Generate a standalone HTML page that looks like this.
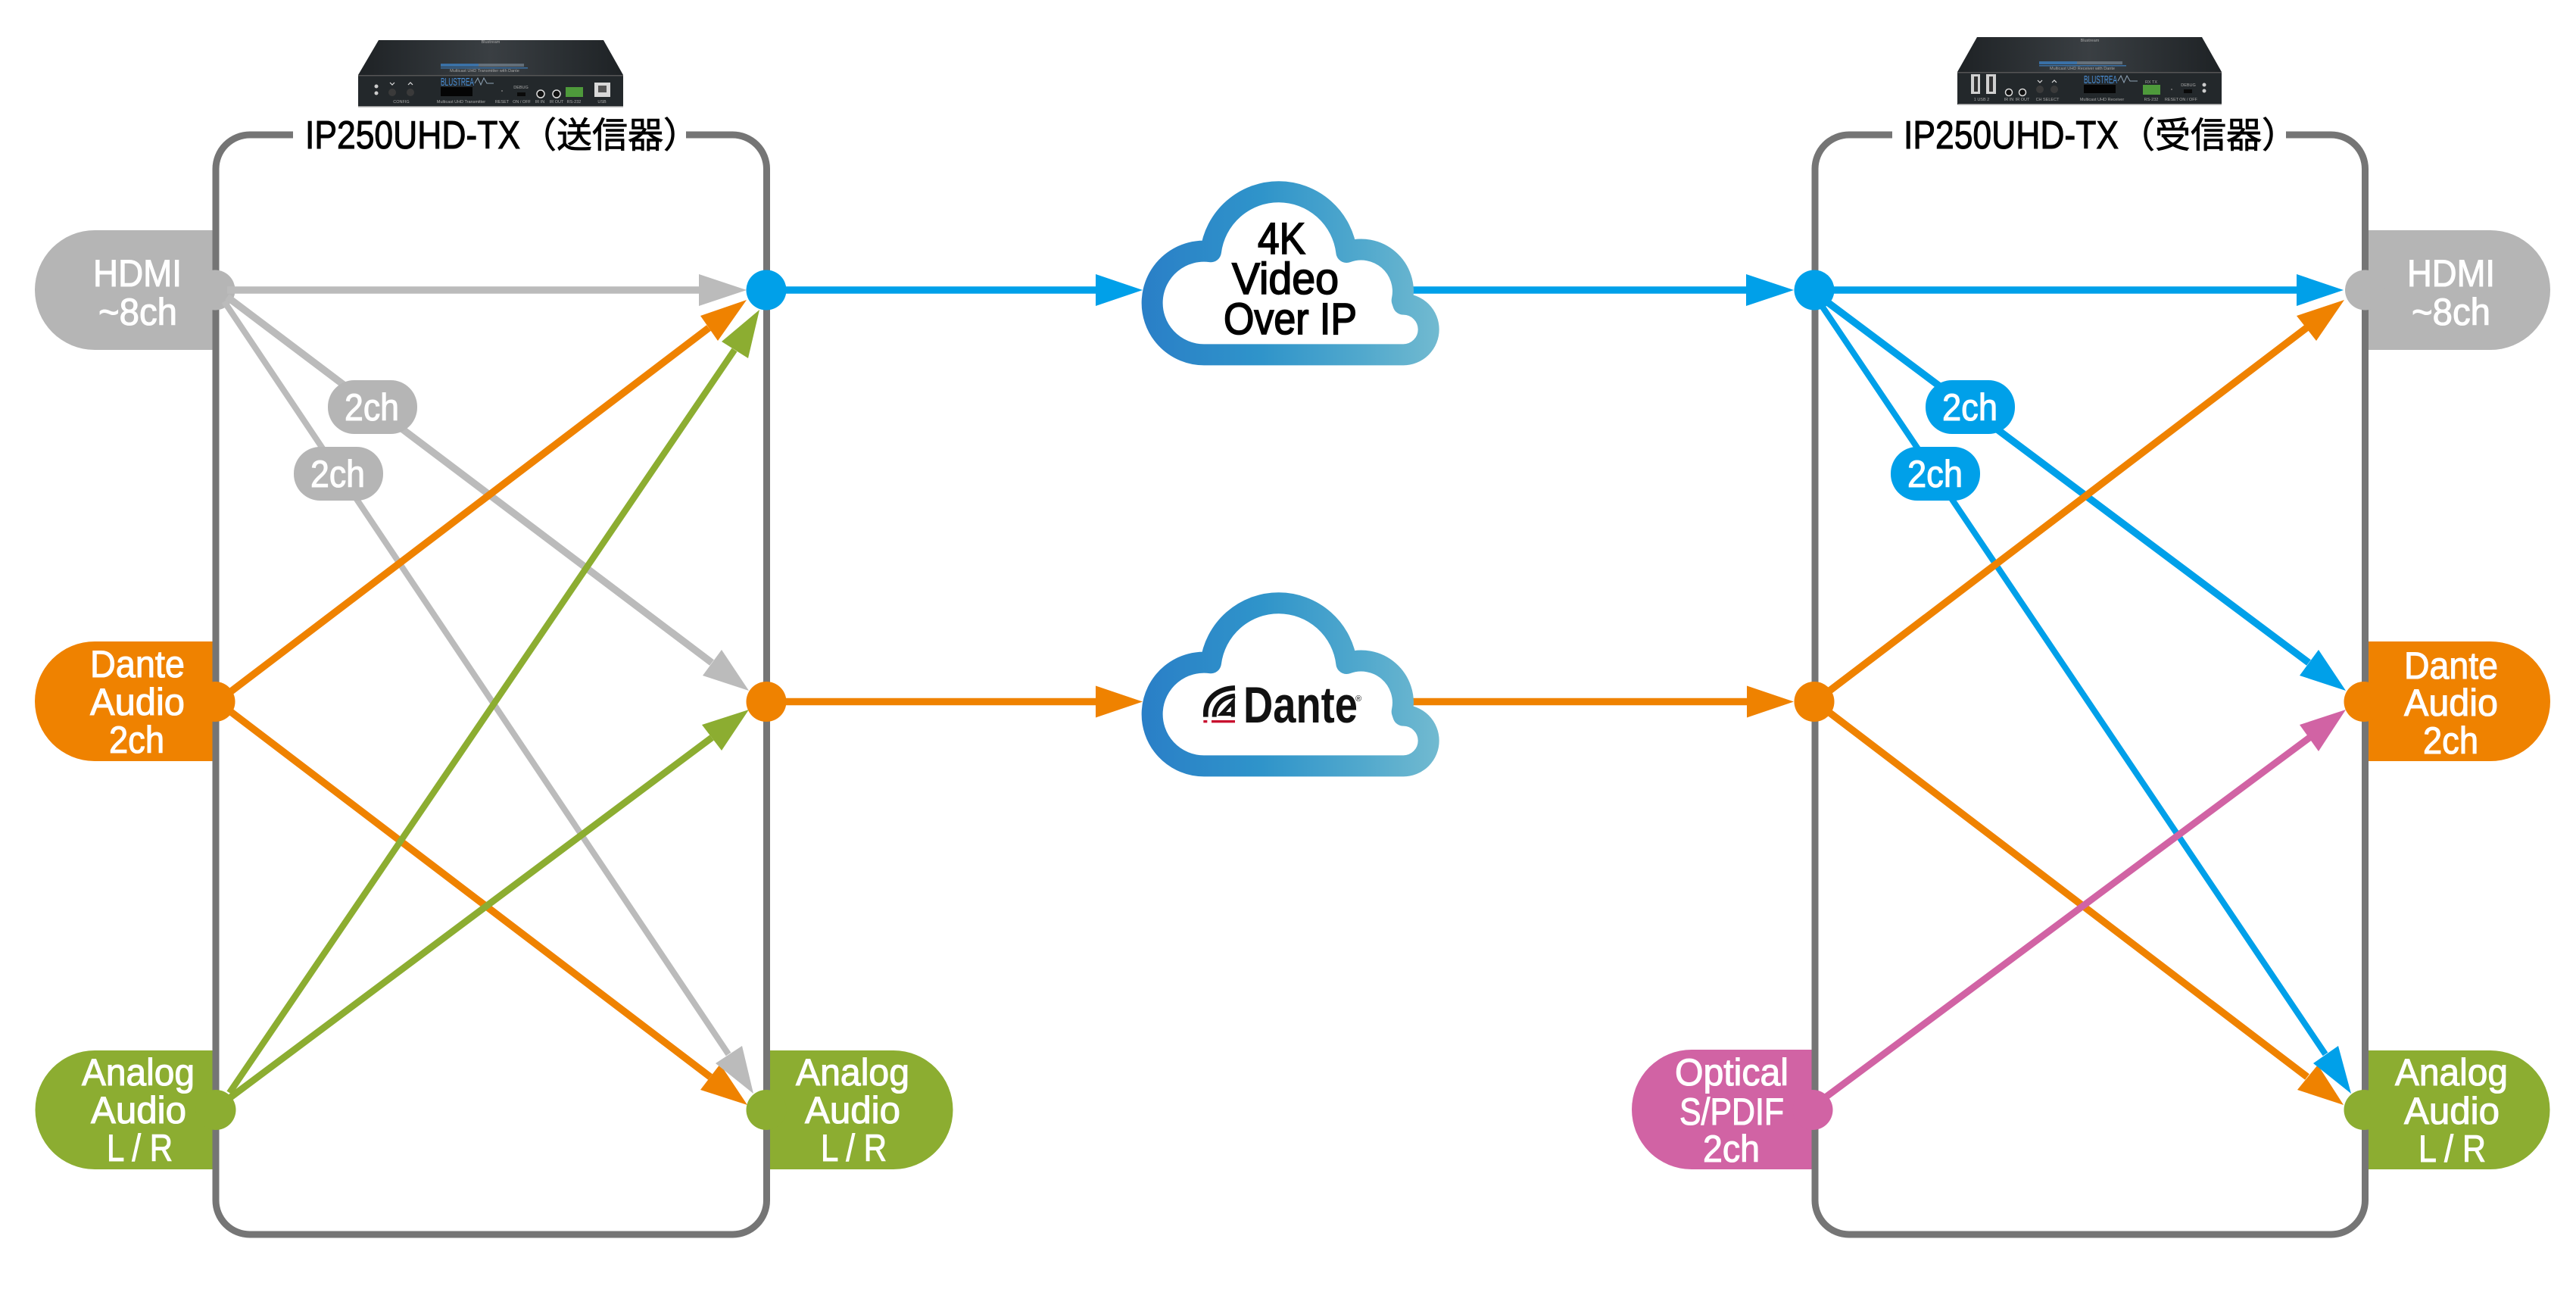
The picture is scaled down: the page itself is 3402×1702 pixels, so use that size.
<!DOCTYPE html>
<html><head><meta charset="utf-8"><style>
html,body{margin:0;padding:0;background:#fff}
svg{display:block}
.w{font-family:"Liberation Sans",sans-serif;font-size:50px;fill:#fff;stroke:#fff;stroke-width:1.1}
.k{font-family:"Liberation Sans",sans-serif;font-size:58px;fill:#000;stroke:#000;stroke-width:1.7}
.t{font-family:"Liberation Sans",sans-serif;font-size:52px;fill:#000;stroke:#000;stroke-width:1.1}
.j{font-family:"Liberation Sans","Noto Sans CJK JP",sans-serif;font-size:47px;fill:#000;stroke:#000;stroke-width:.8}
.d{font-family:"Liberation Sans",sans-serif;font-size:5.5px;fill:#a8a8a8;text-anchor:middle}
.b{font-family:"Liberation Sans",sans-serif;font-size:15px;fill:#4a90d9}
</style></head><body>
<svg xmlns="http://www.w3.org/2000/svg" width="3402" height="1702" viewBox="0 0 3402 1702">
<defs>
<linearGradient id="c" gradientUnits="userSpaceOnUse" x1="175" y1="0" x2="1352" y2="0">
<stop offset="0" stop-color="#2a7fc7"/><stop offset=".4" stop-color="#2f94ca"/><stop offset=".75" stop-color="#52a9cd"/><stop offset="1" stop-color="#72bad0"/>
</linearGradient>
<linearGradient id="top" x1="0" y1="0" x2="1" y2="0">
<stop offset="0" stop-color="#1e2225"/><stop offset=".5" stop-color="#3a3f43"/><stop offset="1" stop-color="#1e2225"/>
</linearGradient>
<path id="cl" d="M420,805 L1210,805 A100,100 0 0 0 1210,605 L1205,590 A166,166 0 0 0 985,399 A271,271 0 0 0 447,396.8 A205,205 0 1 0 420,805 Z" fill="#fff" stroke="url(#c)" stroke-width="84" stroke-linejoin="round"/>
</defs>
<rect width="3402" height="1702" fill="#fff"/>

<!-- pills -->
<path d="M281,304 H125 A79,79 0 0 0 125,462 H281Z" fill="#b5b5b5"/>
<path d="M281,847 H125 A79,79 0 0 0 125,1005 H281Z" fill="#ef8200"/>
<path d="M281,1387 H125 A78.5,78.5 0 0 0 125,1544 H281Z" fill="#8cad31"/>
<path d="M1016,1387 H1180 A78.5,78.5 0 0 1 1180,1544 H1016Z" fill="#8cad31"/>
<path d="M2393,1386 H2234 A79,79 0 0 0 2234,1544 H2393Z" fill="#d163a4"/>
<path d="M3128,304 H3289 A79,79 0 0 1 3289,462 H3128Z" fill="#b5b5b5"/>
<path d="M3128,847 H3289 A79,79 0 0 1 3289,1005 H3128Z" fill="#ef8200"/>
<path d="M3128,1387 H3289 A78.5,78.5 0 0 1 3289,1544 H3128Z" fill="#8cad31"/>

<!-- boxes -->
<g fill="none" stroke="#757575" stroke-width="9">
<path d="M387,178 H330 A45,45 0 0 0 285,223 V1585 A45,45 0 0 0 330,1630 H967.5 A45,45 0 0 0 1012.5,1585 V223 A45,45 0 0 0 967.5,178 H906"/>
<path d="M2499,178 H2442 A45,45 0 0 0 2397,223 V1585 A45,45 0 0 0 2442,1630 H3078.5 A45,45 0 0 0 3123.5,1585 V223 A45,45 0 0 0 3078.5,178 H3019"/>
</g>

<!-- ports -->
<circle cx="284" cy="383" r="26.5" fill="#b5b5b5"/>
<circle cx="284" cy="926.5" r="26.5" fill="#ef8200"/>
<circle cx="285" cy="1465.5" r="26.5" fill="#8cad31"/>
<circle cx="1012" cy="1465.5" r="26.5" fill="#8cad31"/>
<circle cx="1012" cy="383" r="26.5" fill="#00a0e9"/>
<circle cx="1012" cy="926.5" r="26.5" fill="#ef8200"/>
<circle cx="2396" cy="383" r="26.5" fill="#00a0e9"/>
<circle cx="2396" cy="926.5" r="26.5" fill="#ef8200"/>
<circle cx="2394" cy="1465.5" r="26.5" fill="#d163a4"/>
<circle cx="3123.5" cy="383" r="26.5" fill="#b5b5b5"/>
<circle cx="3122" cy="926.5" r="26.5" fill="#ef8200"/>
<circle cx="3122" cy="1465.5" r="26.5" fill="#8cad31"/>

<!-- connectors -->
<g fill="none" stroke-width="9.5">
<path d="M300,383 H925" stroke="#bbb"/>
<path d="M300,392 L940,875" stroke="#bbb"/>
<path d="M296,398 L962,1392" stroke="#bbb" stroke-width="8"/>
<path d="M305,913 L936,433" stroke="#ef8200"/>
<path d="M305,940 L938,1422" stroke="#ef8200"/>
<path d="M303,1443 L970,462" stroke="#8cad31" stroke-width="8.5"/>
<path d="M303,1450 L940,974" stroke="#8cad31" stroke-width="9"/>
<path d="M1035,383 H1449" stroke="#00a0e9"/>
<path d="M1035,926.5 H1449" stroke="#ef8200"/>
<path d="M1860,383 H2308" stroke="#00a0e9"/>
<path d="M1860,926.5 H2308" stroke="#ef8200"/>
<path d="M2410,383 H3035" stroke="#00a0e9"/>
<path d="M2408,395 L3049,875" stroke="#00a0e9"/>
<path d="M2402,398 L3071,1392" stroke="#00a0e9" stroke-width="8"/>
<path d="M2415,913 L3046,433" stroke="#ef8200"/>
<path d="M2415,940 L3047,1422" stroke="#ef8200"/>
<path d="M2412,1448 L3050,974" stroke="#d163a4" stroke-width="9"/>
</g>

<!-- arrowheads -->
<polygon points="986,383 923,362 923,404" fill="#bbb"/>
<polygon points="989,912 953,858 928,892" fill="#bbb"/>
<polygon points="987,1459 951,1405 925,1439" fill="#ef8200"/>
<polygon points="995,1444 980,1381 945,1404" fill="#bbb"/>
<polygon points="986,396 925,417 948,450" fill="#ef8200"/>
<polygon points="1003,409 953,451 988,473" fill="#8cad31"/>
<polygon points="989,937 927,957 953,991" fill="#8cad31"/>
<polygon points="1509,383 1447,362 1447,404" fill="#00a0e9"/>
<polygon points="1509,926.5 1447,905.5 1447,947.5" fill="#ef8200"/>
<polygon points="2369,383 2306,362 2306,404" fill="#00a0e9"/>
<polygon points="2369,926.5 2307,905.5 2307,947.5" fill="#ef8200"/>
<polygon points="3095,383 3033,362 3033,404" fill="#00a0e9"/>
<polygon points="3096,396 3033,417 3059,450" fill="#ef8200"/>
<polygon points="3098,912 3062,858 3037,892" fill="#00a0e9"/>
<polygon points="3098,937 3037,957 3062,992" fill="#d163a4"/>
<polygon points="3095,1459 3061,1406 3034,1439" fill="#ef8200"/>
<polygon points="3105,1444 3088,1381 3055,1404" fill="#00a0e9"/>

<!-- chips -->
<rect x="433" y="502" width="118" height="71" rx="35" fill="#b5b5b5"/>
<rect x="388" y="590" width="118" height="71" rx="35" fill="#b5b5b5"/>
<rect x="2543" y="502" width="118" height="71" rx="35" fill="#00a0e9"/>
<rect x="2497" y="590" width="118" height="71" rx="35" fill="#00a0e9"/>
<text class="w" x="455" y="555" textLength="72" lengthAdjust="spacingAndGlyphs">2ch</text>
<text class="w" x="410" y="643" textLength="72" lengthAdjust="spacingAndGlyphs">2ch</text>
<text class="w" x="2565" y="555" textLength="73" lengthAdjust="spacingAndGlyphs">2ch</text>
<text class="w" x="2519" y="643" textLength="73" lengthAdjust="spacingAndGlyphs">2ch</text>

<!-- pill labels -->
<text class="w" x="123" y="378" textLength="117" lengthAdjust="spacingAndGlyphs">HDMI</text>
<text class="w" x="130" y="429" textLength="104" lengthAdjust="spacingAndGlyphs">~8ch</text>
<text class="w" x="119" y="894" textLength="125" lengthAdjust="spacingAndGlyphs">Dante</text>
<text class="w" x="119" y="944" textLength="125" lengthAdjust="spacingAndGlyphs">Audio</text>
<text class="w" x="144" y="994" textLength="73" lengthAdjust="spacingAndGlyphs">2ch</text>
<text class="w" x="108" y="1433" textLength="149" lengthAdjust="spacingAndGlyphs">Analog</text>
<text class="w" x="120" y="1483" textLength="126" lengthAdjust="spacingAndGlyphs">Audio</text>
<text class="w" x="141" y="1533" textLength="87" lengthAdjust="spacingAndGlyphs">L / R</text>
<text class="w" x="1051" y="1433" textLength="150" lengthAdjust="spacingAndGlyphs">Analog</text>
<text class="w" x="1063" y="1483" textLength="126" lengthAdjust="spacingAndGlyphs">Audio</text>
<text class="w" x="1084" y="1533" textLength="87" lengthAdjust="spacingAndGlyphs">L / R</text>
<text class="w" x="2212" y="1433" textLength="150" lengthAdjust="spacingAndGlyphs">Optical</text>
<text class="w" x="2218" y="1485" textLength="138" lengthAdjust="spacingAndGlyphs">S/PDIF</text>
<text class="w" x="2249" y="1534" textLength="75" lengthAdjust="spacingAndGlyphs">2ch</text>
<text class="w" x="3179" y="378" textLength="116" lengthAdjust="spacingAndGlyphs">HDMI</text>
<text class="w" x="3185" y="429" textLength="104" lengthAdjust="spacingAndGlyphs">~8ch</text>
<text class="w" x="3175" y="896" textLength="124" lengthAdjust="spacingAndGlyphs">Dante</text>
<text class="w" x="3175" y="945" textLength="124" lengthAdjust="spacingAndGlyphs">Audio</text>
<text class="w" x="3200" y="995" textLength="73" lengthAdjust="spacingAndGlyphs">2ch</text>
<text class="w" x="3163" y="1433" textLength="149" lengthAdjust="spacingAndGlyphs">Analog</text>
<text class="w" x="3175" y="1484" textLength="126" lengthAdjust="spacingAndGlyphs">Audio</text>
<text class="w" x="3194" y="1534" textLength="89" lengthAdjust="spacingAndGlyphs">L / R</text>

<!-- titles -->
<text class="t" x="403" y="196" textLength="284" lengthAdjust="spacingAndGlyphs">IP250UHD-TX</text>
<text class="j" x="688" y="195">（送信器）</text>
<text class="t" x="2514" y="196" textLength="284" lengthAdjust="spacingAndGlyphs">IP250UHD-TX</text>
<text class="j" x="2799" y="195">（受信器）</text>

<!-- clouds -->
<g transform="translate(1450,200) scale(.33333)"><use href="#cl"/></g>
<g transform="translate(1450,743) scale(.33333)"><use href="#cl"/></g>
<text class="k" x="1661" y="335" textLength="63" lengthAdjust="spacingAndGlyphs">4K</text>
<text class="k" x="1627" y="388" textLength="141" lengthAdjust="spacingAndGlyphs">Video</text>
<text class="k" x="1616" y="441" textLength="176" lengthAdjust="spacingAndGlyphs">Over IP</text>

<!-- dante logo -->
<g transform="translate(1450,750) scale(.33333)">
<path d="M427,590 L427,575 C427,520 470,478 543,475" fill="none" stroke="#111" stroke-width="20"/>
<path d="M461,590 C461,545 490,512 543,506" fill="none" stroke="#111" stroke-width="18"/>
<path d="M535,590 V530 L490,578 H535" fill="none" stroke="#111" stroke-width="15"/>
<rect x="418" y="603" width="15" height="10" fill="#c8102e"/>
<rect x="450" y="603" width="93" height="10" fill="#c8102e"/>
</g>
<text x="1642" y="954" font-family="Liberation Sans" font-weight="700" font-size="68" fill="#111" textLength="151" lengthAdjust="spacingAndGlyphs">Dante</text>
<text x="1790" y="926" font-family="Liberation Sans" font-size="11" fill="#111">®</text>

<!-- TX device -->
<polygon points="500,53 797,53 823,99 473,99" fill="url(#top)"/>
<rect x="473" y="99" width="350" height="42" fill="#23282b"/>
<rect x="473" y="99" width="350" height="1.5" fill="#555"/>
<rect x="473" y="140" width="350" height="1.5" fill="#999"/>
<text class="d" x="648" y="57">Blustream</text>
<rect x="582" y="84" width="50" height="4" fill="#3d7fc0" opacity=".8"/>
<rect x="632" y="84" width="60" height="4" fill="#8fa3b5" opacity=".5"/>
<rect x="582" y="89" width="115" height="1.5" fill="#3d7fc0" opacity=".8"/>
<text class="d" x="640" y="95">Multicast UHD Transmitter with Dante</text>
<text class="b" x="582" y="113" textLength="44" lengthAdjust="spacingAndGlyphs">BLUSTREA</text>
<path d="M627,110 L631,103 L635,112 L639,103 L643,110 H652" fill="none" stroke="#8fa3b5" stroke-width="1"/>
<rect x="582" y="115" width="42" height="12" fill="#050505"/>
<circle cx="497" cy="114" r="2.5" fill="#ccc"/><circle cx="497" cy="123" r="2.5" fill="#ccc"/>
<circle cx="518" cy="122" r="5" fill="#3a3a3a"/><circle cx="542" cy="122" r="5" fill="#3a3a3a"/>
<path d="M515,109 L518,112 L521,109 M539,112 L542,109 L545,112" fill="none" stroke="#ddd" stroke-width="1.2"/>
<circle cx="663" cy="120" r="1" fill="#777"/>
<rect x="683" y="122" width="11" height="5" fill="#0a0a0a"/>
<circle cx="714" cy="124" r="5" fill="#111" stroke="#ddd" stroke-width="1.5"/>
<circle cx="735" cy="124" r="5" fill="#111" stroke="#ddd" stroke-width="1.5"/>
<rect x="747" y="115" width="23" height="13" fill="#4e9a3b"/>
<rect x="785" y="109" width="21" height="19" fill="#d8d8d8"/><rect x="790" y="113" width="11" height="9" fill="#555"/>
<text class="d" x="530" y="136">CONFIG</text>
<text class="d" x="609" y="136">Multicast UHD Transmitter</text>
<text class="d" x="663" y="136">RESET</text>
<text class="d" x="688" y="117">DEBUG</text>
<text class="d" x="689" y="136">ON / OFF</text>
<text class="d" x="713" y="136">IR IN</text>
<text class="d" x="735" y="136">IR OUT</text>
<text class="d" x="758" y="136">RS-232</text>
<text class="d" x="795" y="136">USB</text>

<!-- RX device -->
<polygon points="2611,49 2908,49 2934,95 2585,95" fill="url(#top)"/>
<rect x="2585" y="95" width="349" height="43" fill="#23282b"/>
<rect x="2585" y="95" width="349" height="1.5" fill="#555"/>
<rect x="2586" y="137" width="348" height="1.5" fill="#999"/>
<text class="d" x="2760" y="55">Blustream</text>
<rect x="2693" y="81" width="50" height="4" fill="#3d7fc0" opacity=".8"/>
<rect x="2743" y="81" width="60" height="4" fill="#8fa3b5" opacity=".5"/>
<rect x="2693" y="86" width="115" height="1.5" fill="#3d7fc0" opacity=".8"/>
<text class="d" x="2750" y="92">Multicast UHD Receiver with Dante</text>
<text class="b" x="2752" y="110" textLength="44" lengthAdjust="spacingAndGlyphs">BLUSTREA</text>
<path d="M2797,107 L2801,100 L2805,109 L2809,100 L2813,107 H2823" fill="none" stroke="#8fa3b5" stroke-width="1"/>
<rect x="2752" y="112" width="42" height="11" fill="#050505"/>
<rect x="2603" y="98" width="12" height="26" fill="#d0d0d0"/><rect x="2607" y="101" width="5" height="20" fill="#333"/>
<rect x="2623" y="98" width="13" height="26" fill="#d0d0d0"/><rect x="2627" y="101" width="5" height="20" fill="#333"/>
<circle cx="2653" cy="122" r="4.5" fill="#111" stroke="#ddd" stroke-width="1.5"/>
<circle cx="2671" cy="122" r="4.5" fill="#111" stroke="#ddd" stroke-width="1.5"/>
<circle cx="2694" cy="118" r="5" fill="#3a3a3a"/><circle cx="2713" cy="118" r="5" fill="#3a3a3a"/>
<path d="M2691,106 L2694,109 L2697,106 M2710,109 L2713,106 L2716,109" fill="none" stroke="#ddd" stroke-width="1.2"/>
<rect x="2830" y="112" width="23" height="13" fill="#4e9a3b"/>
<circle cx="2868" cy="118" r="1" fill="#777"/>
<rect x="2884" y="118" width="11" height="5" fill="#0a0a0a"/>
<circle cx="2911" cy="112" r="2.5" fill="#ccc"/><circle cx="2911" cy="120" r="2.5" fill="#ccc"/>
<text class="d" x="2617" y="133">1 USB 2</text>
<text class="d" x="2653" y="133">IR IN</text>
<text class="d" x="2671" y="133">IR OUT</text>
<text class="d" x="2704" y="133">CH SELECT</text>
<text class="d" x="2776" y="133">Multicast UHD Receiver</text>
<text class="d" x="2841" y="110">RX TX</text>
<text class="d" x="2841" y="133">RS-232</text>
<text class="d" x="2868" y="133">RESET</text>
<text class="d" x="2890" y="114">DEBUG</text>
<text class="d" x="2890" y="133">ON / OFF</text>
</svg>
</body></html>
